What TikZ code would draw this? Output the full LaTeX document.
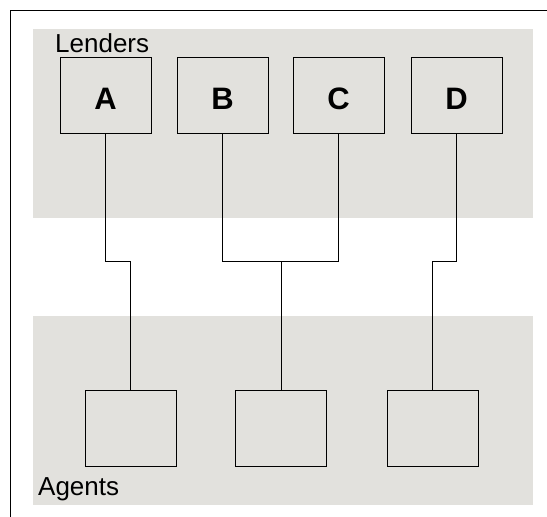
\documentclass[tikz,border=0pt]{standalone}
\usepackage{fontspec}
\setmainfont{Liberation Sans}
\definecolor{bandgray}{RGB}{226,225,221}
\tikzset{
  band/.style={fill=bandgray, draw=none},
  lender/.style={draw=black, line width=1pt, fill=bandgray, minimum width=91pt, minimum height=76pt,
    inner sep=0pt, font=\fontsize{31}{31}\selectfont\bfseries, text height=28pt, text depth=0pt},
  agent/.style={draw=black, line width=1pt, fill=bandgray, minimum width=91pt, minimum height=76pt, inner sep=0pt},
  caption/.style={font=\fontsize{26}{26}\selectfont, inner sep=0pt, anchor=base west},
  wire/.style={draw=black, line width=1pt}
}
\begin{document}
\begin{tikzpicture}[x=1pt, y=-1pt]
  \useasboundingbox (0,0) rectangle (547,517);
  \fill[white] (0,0) rectangle (547,517);
  % outer frame (top and left edges)
  \draw[line width=1pt] (10.5,517) -- (10.5,10.5) -- (547,10.5);
  % shaded bands
  \fill[band] (33,29) rectangle (533,218);
  \fill[band] (33,316) rectangle (533,505);
  % captions
  \node[caption] (lenders) at (55,52) {Lenders};
  \node[caption] (agents) at (38,495) {Agents};
  % lenders
  \node[lender] (A) at (105.5,95) {A};
  \node[lender] (B) at (222.5,95) {B};
  \node[lender] (C) at (338.5,95) {C};
  \node[lender] (D) at (456.5,95) {D};
  % agents
  \node[agent] (E1) at (130.5,428) {};
  \node[agent] (E2) at (281,428) {};
  \node[agent] (E3) at (432.5,428) {};
  % junction level
  \coordinate (lvl) at (0,261);
  % connectors
  \draw[wire] (A.south) -- (A.south |- lvl) -| (E1.north);
  \draw[wire] (B.south) -- (B.south |- lvl) -- (C.south |- lvl) -- (C.south);
  \draw[wire] (E2.north) -- (E2.north |- lvl);
  \draw[wire] (D.south) -- (D.south |- lvl) -| (E3.north);
\end{tikzpicture}
\end{document}
